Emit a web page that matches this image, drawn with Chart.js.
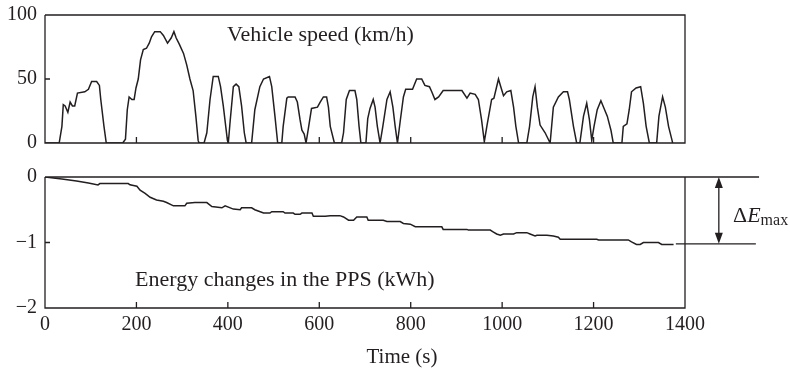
<!DOCTYPE html>
<html>
<head>
<meta charset="utf-8">
<script src="https://cdn.jsdelivr.net/npm/chart.js@4.4.0/dist/chart.umd.min.js"></script>
<style>
    body { margin: 0; background: #fff; }
    #quadro { position: relative; width: 790px; height: 370px; overflow: hidden; }
    canvas { position: absolute; left: 0; }
</style>
</head>
<body>
<div id="quadro">
    <canvas id="grafico-energia" width="790" height="220" style="top:150px"></canvas>
    <canvas id="grafico-velocidade" width="790" height="168" style="top:-5px"></canvas>
</div>
<script>
// DADOS DO GRÁFICO - velocidade do veículo (km/h) x tempo (s)
const tempoVel = [0, 31, 37, 40, 44, 50, 55, 60, 65, 71, 87, 95, 102, 113, 119, 122, 129, 134, 170, 176,
    180, 184, 190, 195, 199, 204, 209, 215, 222, 228, 233, 240, 252, 259, 268, 276, 282, 287, 294, 303,
    310, 317, 324, 330, 335, 337, 348, 354, 361, 368, 379, 384, 390, 399, 401, 405, 412, 418, 424, 430,
    436, 440, 452, 459, 470, 478, 491, 496, 503, 509, 518, 521, 529, 532, 547, 552, 558, 562, 567, 571,
    576, 583, 596, 602, 609, 616, 620, 624, 633, 649, 653, 659, 666, 678, 682, 687, 691, 702, 706, 711,
    718, 722, 727, 733, 739, 748, 755, 761, 766, 771, 777, 784, 789, 804, 813, 824, 831, 841, 846, 853,
    861, 871, 912, 923, 930, 941, 948, 955, 961, 967, 977, 982, 992, 997, 1003, 1010, 1019, 1025, 1030, 1036,
    1054, 1060, 1067, 1072, 1077, 1083, 1094, 1105, 1112, 1123, 1134, 1143, 1147, 1156, 1163, 1170, 1178, 1185, 1191, 1196,
    1201, 1208, 1216, 1223, 1230, 1238, 1243, 1262, 1265, 1273, 1278, 1283, 1293, 1303, 1309, 1315, 1322, 1338, 1343, 1351,
    1357, 1364, 1371, 1373];
const velocidade = [0, 0, 13, 30, 29, 24, 32, 29, 29, 39, 40, 42, 48, 48, 45, 34, 13, 0, 0, 3,
    26, 36, 34, 34, 43, 50, 65, 73, 74, 78, 83, 87, 87, 84, 78, 82, 87, 82, 77, 70,
    61, 50, 41, 21, 2, 0, 0, 8, 34, 52, 52, 44, 29, 2, 0, 17, 44, 46, 44, 29,
    8, 0, 0, 26, 44, 50, 52, 44, 21, 0, 0, 13, 35, 36, 36, 32, 18, 10, 7, 0,
    11, 27, 28, 32, 36, 36, 28, 13, 0, 0, 8, 34, 41, 41, 34, 13, 0, 0, 19, 27,
    34, 28, 13, 0, 13, 34, 40, 28, 13, 0, 17, 36, 42, 42, 50, 50, 45, 44, 40, 34,
    36, 41, 41, 35, 39, 38, 34, 18, 1, 14, 34, 35, 50, 44, 37, 40, 41, 28, 13, 0,
    0, 13, 36, 44, 28, 14, 8, 0, 28, 36, 40, 40, 34, 13, 0, 0, 21, 31, 18, 2,
    13, 26, 33, 27, 21, 10, 0, 0, 13, 15, 26, 40, 43, 44, 31, 13, 0, 0, 21, 36,
    28, 13, 3, 0];

// DADOS DO GRÁFICO - variação de energia no PPS (kWh) x tempo (s)
const tempoEnergia = [0, 37, 69, 95, 116, 120, 182, 186, 201, 208, 219, 230, 244, 259, 266, 281, 306, 310, 328, 354,
    365, 387, 394, 412, 427, 430, 452, 459, 478, 492, 496, 521, 525, 543, 547, 558, 562, 584, 587, 613,
    624, 645, 653, 664, 675, 682, 704, 707, 740, 748, 777, 784, 799, 810, 868, 871, 923, 926, 974, 981,
    988, 996, 1003, 1025, 1032, 1054, 1061, 1072, 1076, 1098, 1112, 1123, 1127, 1207, 1211, 1276, 1283, 1294, 1302, 1309,
    1342, 1349, 1375];
const energia = [0, -0.03, -0.06, -0.09, -0.12, -0.1, -0.1, -0.12, -0.14, -0.2, -0.25, -0.31, -0.35, -0.37, -0.39, -0.44, -0.44, -0.4, -0.39, -0.39,
    -0.45, -0.47, -0.44, -0.49, -0.5, -0.47, -0.47, -0.5, -0.55, -0.55, -0.53, -0.53, -0.55, -0.55, -0.57, -0.57, -0.55, -0.55, -0.6, -0.6,
    -0.59, -0.59, -0.61, -0.66, -0.66, -0.61, -0.61, -0.66, -0.66, -0.68, -0.68, -0.71, -0.72, -0.76, -0.76, -0.8, -0.8, -0.81, -0.81, -0.84,
    -0.87, -0.89, -0.87, -0.87, -0.85, -0.85, -0.87, -0.9, -0.89, -0.89, -0.9, -0.92, -0.95, -0.95, -0.96, -0.96, -0.99, -1.03, -1.03, -1.0,
    -1.0, -1.03, -1.03];

// LINHAS DE REFERÊNCIA DO ΔEmax
const tempoLinhaTopo = [0, 1562];
const tempoLinhaBase = [1380, 1555];
const nivelDeltaE = [0, -1.02];
const tempoSeta = 1474;

// EIXOS
const ticksTempo = [0, 200, 400, 600, 800, 1000, 1200, 1400];
const ticksVel = [0, 50, 100];
const ticksEnergia = [-2, -1, 0];

const corTraco = '#231f20';
const fonteSerif = "'Liberation Serif', 'Times New Roman', serif";

Chart.defaults.font.family = fonteSerif;
Chart.defaults.font.size = 20;
Chart.defaults.color = corTraco;

function pontos(xs, ys) {
    return xs.map((x, i) => ({ x: x, y: ys[i] }));
}

function formatarMenos(valor) {
    return String(valor).replace('-', '\u2212');
}

// MOLDURA, MARCAS INTERNAS DOS EIXOS E TEXTOS
const pluginMoldura = {
    id: 'moldura',
    afterDatasetsDraw(chart, args, opts) {
        const { ctx, chartArea: a, scales } = chart;
        ctx.save();
        ctx.strokeStyle = corTraco;
        ctx.lineWidth = 1.3;
        ctx.beginPath();
        ctx.moveTo(a.left, a.top);
        ctx.lineTo(a.left, a.bottom);
        ctx.lineTo(a.right, a.bottom);
        ctx.lineTo(a.right, a.top);
        if (opts.topo) {
            ctx.lineTo(a.left, a.top);
        }
        opts.marcasX.forEach(v => {
            const px = scales.x.getPixelForValue(v);
            ctx.moveTo(px, a.bottom);
            ctx.lineTo(px, a.bottom - 6);
        });
        opts.marcasY.forEach(v => {
            const py = scales.y.getPixelForValue(v);
            ctx.moveTo(a.left, py);
            ctx.lineTo(a.left + 5, py);
        });
        ctx.stroke();

        // TEXTO DENTRO DO GRÁFICO
        ctx.fillStyle = corTraco;
        ctx.font = '22px ' + fonteSerif;
        ctx.textAlign = 'left';
        ctx.textBaseline = 'middle';
        ctx.fillText(opts.texto, scales.x.getPixelForValue(opts.textoX), scales.y.getPixelForValue(opts.textoY));

        // TÍTULO DO EIXO X (centrado na figura)
        if (opts.tituloX) {
            ctx.font = '21px ' + fonteSerif;
            ctx.textAlign = 'center';
            ctx.fillText(opts.tituloX, scales.x.getPixelForValue(opts.tituloPos), chart.height - 13);
        }
        ctx.restore();
    }
};

// SETA DUPLA DO ΔEmax
const pluginDeltaE = {
    id: 'deltaE',
    afterDatasetsDraw(chart) {
        const { ctx, scales: { x, y } } = chart;
        const px = x.getPixelForValue(tempoSeta);
        const y0 = y.getPixelForValue(nivelDeltaE[0]);
        const y1 = y.getPixelForValue(nivelDeltaE[1]);
        ctx.save();
        ctx.strokeStyle = corTraco;
        ctx.fillStyle = corTraco;
        ctx.lineWidth = 1.3;
        ctx.beginPath();
        ctx.moveTo(px, y0 + 8);
        ctx.lineTo(px, y1 - 8);
        ctx.stroke();
        ctx.beginPath();
        ctx.moveTo(px, y0);
        ctx.lineTo(px - 4, y0 + 11);
        ctx.lineTo(px + 4, y0 + 11);
        ctx.closePath();
        ctx.moveTo(px, y1);
        ctx.lineTo(px - 4, y1 - 11);
        ctx.lineTo(px + 4, y1 - 11);
        ctx.closePath();
        ctx.fill();

        let tx = x.getPixelForValue(1505);
        const base = y.getPixelForValue(-0.68);
        ctx.textAlign = 'left';
        ctx.textBaseline = 'alphabetic';
        ctx.font = '22px ' + fonteSerif;
        ctx.fillText('\u0394', tx, base);
        tx += ctx.measureText('\u0394').width;
        ctx.font = 'italic 22px ' + fonteSerif;
        ctx.fillText('E', tx, base);
        tx += ctx.measureText('E').width;
        ctx.font = '16px ' + fonteSerif;
        ctx.fillText('max', tx, base + 3);
        ctx.restore();
    }
};

function gerarGraficoVelocidade() {
    const ctx = document.getElementById('grafico-velocidade').getContext('2d');

    const data = {
        datasets: [{
            data: pontos(tempoVel, velocidade),
            borderColor: corTraco,
            borderWidth: 1.5,
            pointRadius: 0,
            fill: false
        }]
    };

    new Chart(ctx, {
        type: 'line',
        data: data,
        options: {
            responsive: false,
            animation: false,
            layout: { padding: { top: 0, right: 105, bottom: 0, left: 0 } },
            plugins: {
                legend: { display: false },
                tooltip: { enabled: false },
                moldura: {
                    topo: true,
                    marcasX: ticksTempo.slice(1, -1),
                    marcasY: ticksVel.slice(1, -1),
                    texto: 'Vehicle speed (km/h)',
                    textoX: 398,
                    textoY: 84
                }
            },
            scales: {
                x: {
                    type: 'linear',
                    display: false,
                    min: ticksTempo[0],
                    max: ticksTempo[ticksTempo.length - 1]
                },
                y: {
                    min: ticksVel[0],
                    max: ticksVel[ticksVel.length - 1],
                    afterFit: (s) => { s.width = 45; },
                    afterBuildTicks: (s) => { s.ticks = ticksVel.map(v => ({ value: v })); },
                    grid: { display: false, drawTicks: false },
                    border: { display: false },
                    ticks: { padding: 8 }
                }
            }
        },
        plugins: [pluginMoldura]
    });
}

function gerarGraficoEnergia() {
    const ctx = document.getElementById('grafico-energia').getContext('2d');

    const data = {
        datasets: [
            {
                data: pontos(tempoEnergia, energia),
                borderColor: corTraco,
                borderWidth: 1.5,
                pointRadius: 0,
                fill: false
            },
            {
                data: pontos(tempoLinhaTopo, [nivelDeltaE[0], nivelDeltaE[0]]),
                borderColor: corTraco,
                borderWidth: 1.3,
                pointRadius: 0,
                clip: false
            },
            {
                data: pontos(tempoLinhaBase, [nivelDeltaE[1], nivelDeltaE[1]]),
                borderColor: corTraco,
                borderWidth: 1.3,
                pointRadius: 0,
                clip: false
            }
        ]
    };

    new Chart(ctx, {
        type: 'line',
        data: data,
        options: {
            responsive: false,
            animation: false,
            layout: { padding: { top: 27, right: 105, bottom: 0, left: 0 } },
            plugins: {
                legend: { display: false },
                tooltip: { enabled: false },
                moldura: {
                    topo: false,
                    marcasX: ticksTempo.slice(1, -1),
                    marcasY: ticksEnergia.slice(1, -1),
                    texto: 'Energy changes in the PPS (kWh)',
                    textoX: 197,
                    textoY: -1.57,
                    tituloX: 'Time (s)',
                    tituloPos: 781
                }
            },
            scales: {
                x: {
                    type: 'linear',
                    min: ticksTempo[0],
                    max: ticksTempo[ticksTempo.length - 1],
                    afterFit: (s) => { s.height = 62; },
                    afterBuildTicks: (s) => { s.ticks = ticksTempo.map(v => ({ value: v })); },
                    grid: { display: false, drawTicks: false },
                    border: { display: false },
                    ticks: { padding: 5, maxRotation: 0, callback: (v) => String(v) }
                },
                y: {
                    min: ticksEnergia[0],
                    max: ticksEnergia[ticksEnergia.length - 1],
                    afterFit: (s) => { s.width = 45; },
                    afterBuildTicks: (s) => { s.ticks = ticksEnergia.map(v => ({ value: v })); },
                    grid: { display: false, drawTicks: false },
                    border: { display: false },
                    ticks: { padding: 8, callback: (v) => formatarMenos(v) }
                }
            }
        },
        plugins: [pluginMoldura, pluginDeltaE]
    });
}

gerarGraficoVelocidade();
gerarGraficoEnergia();
</script>
</body>
</html>
